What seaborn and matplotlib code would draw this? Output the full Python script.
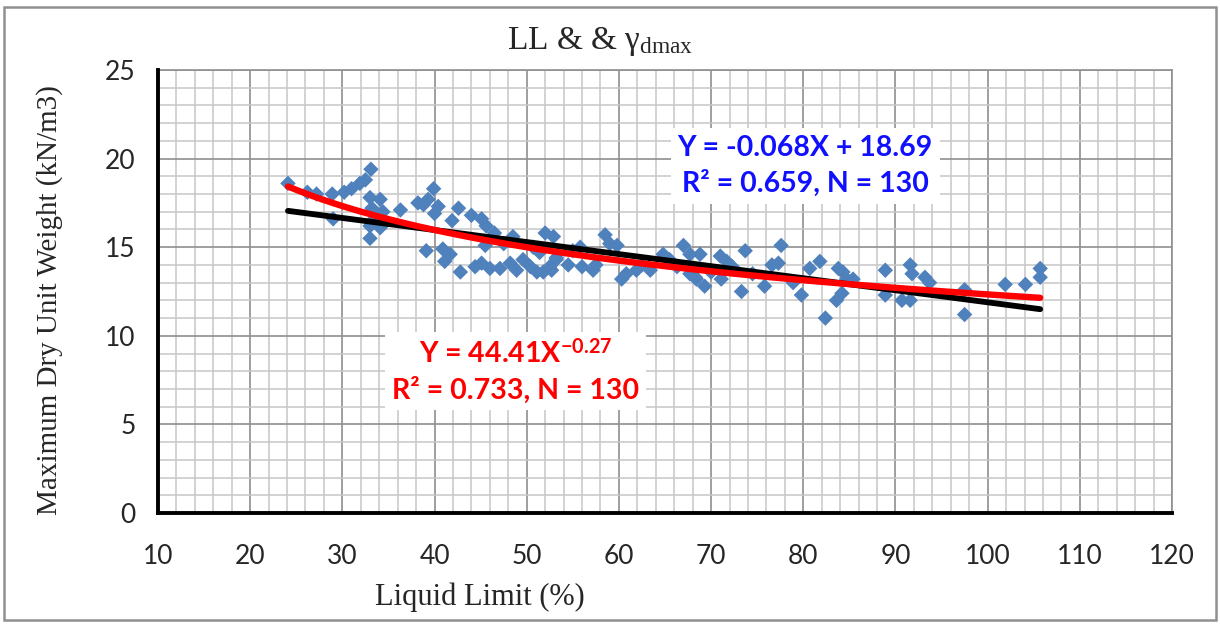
import numpy as np
import pandas as pd
import matplotlib
matplotlib.use("Agg")
import matplotlib.pyplot as plt
import seaborn as sns
from matplotlib.ticker import MultipleLocator
from matplotlib.patches import Rectangle

# ---------------- data ----------------
liquid_limit = [
    24.1, 26.2, 27.2, 28.9, 29.0, 30.2, 31.0, 31.9, 32.5, 33.1, 33.0, 34.1, 33.2, 34.4, 36.3,
    33.0, 34.1, 33.5, 34.6, 33.0, 38.2,
    38.8, 39.9, 40.4, 39.3, 40.0, 42.6, 41.9, 44.0, 45.1, 45.6, 39.1, 40.9, 41.7, 41.1, 42.8,
    45.1, 46.0, 47.1, 48.2, 48.9, 48.5, 45.5, 49.6, 50.4, 51.1, 52.0, 52.9, 51.8, 52.5, 53.2,
    46.5, 47.5, 50.7, 51.4, 44.4,
    53.2, 52.7, 55.8, 56.0, 57.2, 58.5, 59.0, 59.8, 60.3, 60.8, 61.9, 63.4, 64.8, 67.0, 67.7,
    68.4, 67.7, 54.5, 55.0, 57.5, 62.5, 65.5, 66.3,
    68.8, 71.0, 71.7, 73.7, 77.6, 77.3, 76.6, 68.3, 69.3, 71.1, 73.3, 75.8, 78.9, 79.8, 80.7,
    81.8, 83.8, 82.4, 83.6, 84.2, 84.7, 70.0, 72.3, 74.5, 85.4, 84.3,
    88.9, 88.9, 90.7, 91.6, 91.8, 91.6, 93.2, 93.7, 97.5, 97.5, 101.9, 104.1, 105.7, 105.7,
]
dry_unit_weight = [
    18.6, 18.1, 18.0, 18.0, 16.6, 18.1, 18.3, 18.6, 18.8, 19.4, 17.8, 17.7, 17.2, 17.0, 17.1,
    15.5, 16.1, 16.6, 16.4, 16.2, 17.5,
    17.4, 18.3, 17.3, 17.7, 16.9, 17.2, 16.5, 16.8, 16.6, 16.2, 14.8, 14.9, 14.6, 14.2, 13.6,
    14.1, 13.8, 13.8, 14.1, 13.7, 15.6, 15.1, 14.3, 13.9, 13.6, 15.8, 15.6, 13.6, 13.9, 14.4,
    15.8, 15.2, 15.0, 14.7, 13.9,
    14.3, 13.7, 15.0, 13.9, 13.7, 15.7, 15.2, 15.1, 13.2, 13.5, 13.7, 13.7, 14.6, 15.1, 14.6,
    13.2, 13.5, 14.0, 14.8, 14.0, 14.0, 14.3, 13.9,
    14.6, 14.5, 14.2, 14.8, 15.1, 14.1, 14.0, 13.3, 12.8, 13.2, 12.5, 12.8, 13.0, 12.3, 13.8,
    14.2, 13.8, 11.0, 12.0, 12.4, 13.2, 13.6, 13.9, 13.5, 13.2, 13.6,
    13.7, 12.3, 12.0, 14.0, 13.5, 12.0, 13.3, 13.0, 12.6, 11.2, 12.9, 12.9, 13.8, 13.3,
]

# trend-line parameters
lin_slope, lin_intercept = -0.068, 18.69          # linear trend (label)
pow_a, pow_b = 45.2, -0.282                        # power trend (as drawn)

x_ticks = [10, 20, 30, 40, 50, 60, 70, 80, 90, 100, 110, 120]
y_ticks = [0, 5, 10, 15, 20, 25]

title_text = r"LL & & $\mathrm{\gamma_{dmax}}$"
x_label = "Liquid Limit (%)"
y_label = "Maximum Dry Unit Weight (kN/m3)"
lin_text = "Y = -0.068X + 18.69\nR² = 0.659, N = 130"
pow_text_1 = r"Y = 44.41X$^{\mathbf{-0.27}}$"
pow_text_2 = "R² = 0.733, N = 130"

# ---------------- style ----------------
sns.set_style("white")
plt.rcParams["font.family"] = ["Lato", "DejaVu Sans"]
plt.rcParams["mathtext.fontset"] = "custom"
plt.rcParams["mathtext.rm"] = "Liberation Serif"
plt.rcParams["mathtext.it"] = "Liberation Serif:italic"
plt.rcParams["mathtext.bf"] = "Lato:bold"

df = pd.DataFrame({"LL": liquid_limit, "gd": dry_unit_weight})
x_fit = np.linspace(min(liquid_limit), max(liquid_limit), 200)
df_lin = pd.DataFrame({"x": x_fit, "y": lin_slope * x_fit + lin_intercept})
df_pow = pd.DataFrame({"x": x_fit, "y": pow_a * x_fit ** pow_b})

fig = plt.figure(figsize=(12.2, 6.24), dpi=100)
ax = fig.add_axes([158 / 1220, 1 - 513 / 624, (1172 - 158) / 1220, (513 - 70) / 624])

ax.set_xlim(10, 120)
ax.set_ylim(0, 25)
ax.set_xticks(x_ticks)
ax.set_yticks(y_ticks)
ax.xaxis.set_minor_locator(MultipleLocator(2))
ax.yaxis.set_minor_locator(MultipleLocator(1))
ax.grid(True, which="minor", color="#c6c6c6", lw=1.1, zorder=0)
ax.grid(True, which="major", color="#8f8f8f", lw=1.2, zorder=0)
ax.set_axisbelow(True)

sns.scatterplot(data=df, x="LL", y="gd", ax=ax, marker="D", s=62,
                color="#4f81bd", edgecolor="none", linewidth=0, zorder=3)
sns.lineplot(data=df_lin, x="x", y="y", ax=ax, color="black", lw=4.2,
             solid_capstyle="round", zorder=4)
sns.lineplot(data=df_pow, x="x", y="y", ax=ax, color="#ff0000", lw=4.6,
             solid_capstyle="round", zorder=5)

ax.set_xlabel("")
ax.set_ylabel("")
for s in ["left", "bottom"]:
    ax.spines[s].set_color("black")
    ax.spines[s].set_linewidth(2.8)
    ax.spines[s].set_zorder(6)
for s in ["top", "right"]:
    ax.spines[s].set_color("#8f8f8f")
    ax.spines[s].set_linewidth(1.2)

ax.tick_params(axis="both", which="major", direction="out", length=6, width=2.8,
               color="black", labelsize=19)
ax.tick_params(axis="x", pad=16)
ax.tick_params(axis="y", pad=10)
ax.tick_params(which="minor", length=0)
ax.tick_params(top=False, right=False)

serif = ["Liberation Serif", "DejaVu Serif"]
ax.text((600 - 158) / 1014, (513 - 42) / 443, title_text, transform=ax.transAxes,
        ha="center", va="center", fontsize=24, family=serif)
ax.text((480 - 158) / 1014, -(597 - 513) / 443, x_label, transform=ax.transAxes,
        ha="center", va="center", fontsize=22, family=serif)
ax.text(-(158 - 50) / 1014, (513 - 300) / 443, y_label, transform=ax.transAxes,
        ha="center", va="center", rotation=90, fontsize=21, family=serif)

ax.text(80.2, 19.6, lin_text, ha="center", va="center", fontsize=20.5,
        fontweight="bold", color="#1010ff", linespacing=1.4, zorder=7,
        bbox=dict(facecolor="white", edgecolor="none", pad=5))
ax.text(48.8, 8.0, pow_text_1 + "\n" + pow_text_2, ha="center", va="center",
        fontsize=20.5, fontweight="bold", color="#ff0000", linespacing=1.4, zorder=7,
        bbox=dict(facecolor="white", edgecolor="none", pad=5))

fig.patches.append(Rectangle((0.003, 0.006), 0.994, 0.982, transform=fig.transFigure,
                             fill=False, edgecolor="#909090", lw=1.8))

fig.savefig("out.png", dpi=100)
